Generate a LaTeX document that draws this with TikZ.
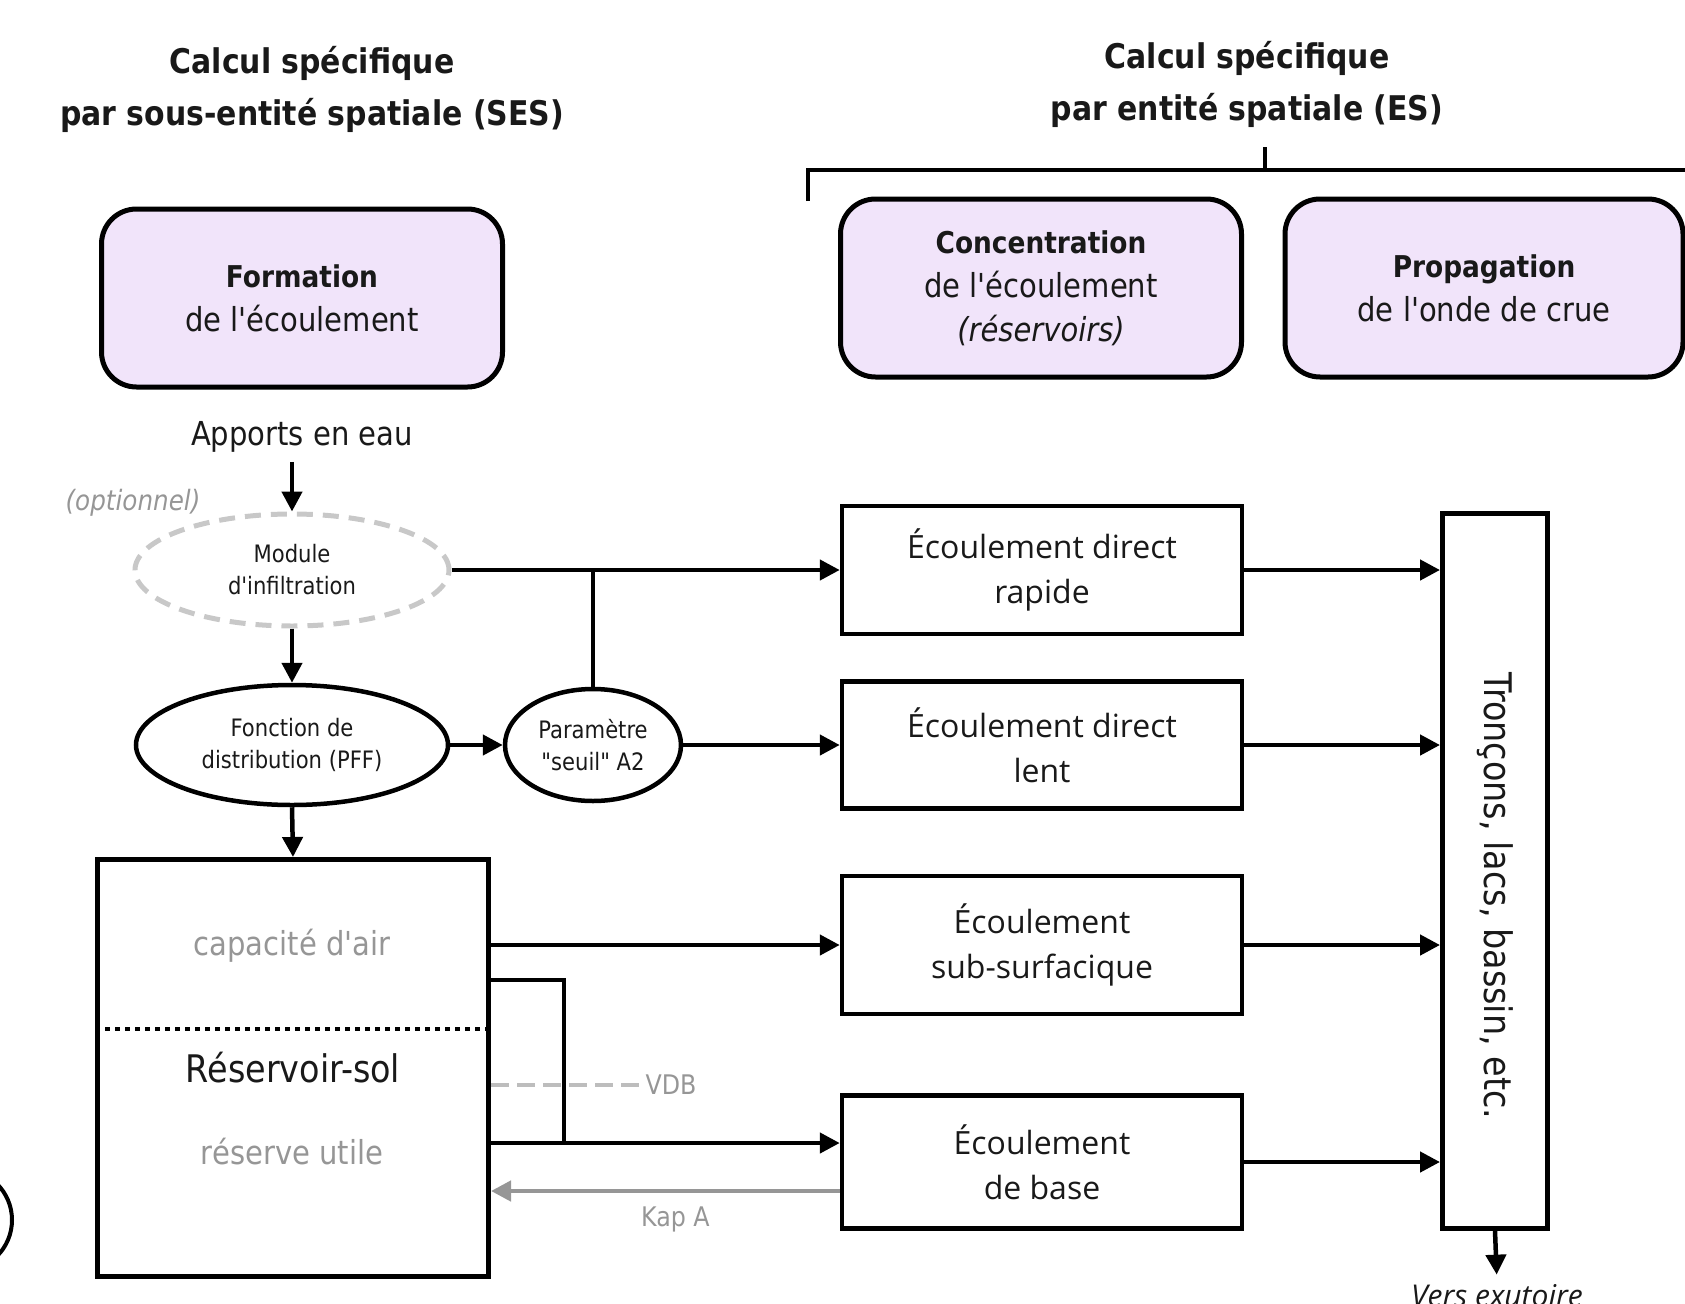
\documentclass[tikz,border=0pt]{standalone}
\usepackage{fontspec}
\setmainfont{DejaVu Sans}[FakeStretch=0.88, Ligatures=TeXOff]
\newfontfamily\boxfont{Open Sans}
\usetikzlibrary{shapes.geometric, arrows.meta, positioning}
\definecolor{lilac}{RGB}{241,228,250}
\definecolor{inkgray}{RGB}{150,150,150}
\definecolor{palegray}{RGB}{200,200,200}
\definecolor{ink}{RGB}{25,25,25}
\tikzstyle{title} = [align=center, text=ink, font=\bfseries\fontsize{34}{52}\selectfont]
\tikzstyle{phase} = [rectangle, rounded corners=35pt, minimum width=401pt, minimum height=178pt, align=center, draw=black, line width=5pt, fill=lilac, text=ink, font=\fontsize{33}{44}\selectfont]
\tikzstyle{flow} = [rectangle, minimum width=400pt, align=center, draw=black, line width=4.5pt, text=ink, font=\boxfont\fontsize{32}{45}\selectfont]
\tikzstyle{module} = [ellipse, inner sep=0pt, align=center, draw=black, line width=4.5pt, text=ink, font=\fontsize{24}{32}\selectfont]
\tikzstyle{note} = [text=inkgray, font=\fontsize{27}{32}\selectfont]
\tikzstyle{arrow} = [line width=4.5pt, -{Triangle[length=20pt, width=20pt]}]
\tikzstyle{link} = [line width=4.5pt]
\begin{document}
\begin{tikzpicture}[x=1pt, y=-1pt]
\useasboundingbox (0,0) rectangle (1685,1303);

% Titles
\node (titleses) [title] at (312,89) {Calcul spécifique\\par sous-entité spatiale (SES)};
\node (titlees) [title] at (1247,84) {Calcul spécifique\\par entité spatiale (ES)};
\draw [link] (808,201) -- (808,170) -- (1700,170);
\draw [link] (1265,147) -- (1265,170);

% Phases
\node (formation) [phase] at (302,298) {\textbf{\fontsize{30}{44}\selectfont Formation}\\de l'écoulement};
\node (concentration) [phase] at (1041,288) {\textbf{\fontsize{30}{44}\selectfont Concentration}\\de l'écoulement\\\textit{(réservoirs)}};
\node (propagation) [phase, minimum width=398pt] at (1484,288) {\textbf{\fontsize{30}{44}\selectfont Propagation}\\de l'onde de crue};

% SES chain
\node (apports) [text=ink, font=\fontsize{33}{40}\selectfont] at (302,437) {Apports en eau};
\node (optionnel) [note, font=\itshape\fontsize{28}{32}\selectfont] at (133,503) {(optionnel)};
\node (module) [module, draw=palegray, dash pattern=on 16pt off 10pt, line width=5pt, minimum width=314pt, minimum height=112pt] at (292,570) {Module\\d'infiltration};
\node (fonction) [module, minimum width=312pt, minimum height=120pt] at (292,745) {Fonction de\\distribution (PFF)};
\node (seuil) [module, minimum width=176pt, minimum height=112pt] at (593,745) {Paramètre\\"seuil" A2};
\node (reservoir) [rectangle, draw=black, line width=5pt, minimum width=391pt, minimum height=417pt, text=ink, font=\fontsize{38}{44}\selectfont] at (293,1068) {Réservoir-sol};
\node (capacite) [note, font=\fontsize{33}{40}\selectfont] at (292,946) {capacité d'air};
\node (reserve) [note, font=\fontsize{33}{40}\selectfont] at (292,1152) {réserve utile};
\draw [line width=4pt, dash pattern=on 5pt off 5pt] (reservoir.west |- 0,1029) -- (reservoir.east |- 0,1029);

% ES flows
\node (rapide) [flow, minimum height=128pt] at (1042,570) {Écoulement direct\\rapide};
\node (lent) [flow, minimum height=127pt] at (1042,745) {Écoulement direct\\lent};
\node (sub) [flow, minimum height=138pt] at (1042,945) {Écoulement\\sub-surfacique};
\node (base) [flow, minimum height=133pt] at (1042,1162) {Écoulement\\de base};
% rotated: south = left side, east = bottom side
\node (troncons) [rectangle, rotate=-90, draw=black, line width=5pt, minimum width=715pt, minimum height=105pt, text=ink, font=\fontsize{38}{40}\selectfont] at (1495,871) {\hspace*{50pt}Tronçons, lacs, bassin, etc.};
\node (exutoire) [text=ink, inner sep=2pt, font=\boxfont\itshape\fontsize{30}{36}\selectfont] at (1497,1296) {Vers exutoire};

% Arrows
\draw [arrow, shorten <=6pt] (module.north |- apports.south) -- (module.north);
\draw [arrow] (module.south) -- (fonction.north);
\draw [arrow] (fonction.south) -- (reservoir.north);
\draw [arrow] (fonction.east) -- (seuil.west);
\draw [arrow] (module.east) -- (rapide.west);
\draw [link] (seuil.north) -- (seuil.north |- module.east);
\draw [arrow] (seuil.east) -- (lent.west);
\draw [arrow] (reservoir.east |- sub.west) -- (sub.west);
\coordinate (bend) at (564,980);
\draw [arrow] (reservoir.east |- 0,1143) -- (base.west |- 0,1143);
\draw [link] (reservoir.east |- bend) -- (bend) -- (bend |- 0,1145);
\coordinate (vdbend) at (640,1085);
\draw [line width=4.5pt, draw=palegray!85!gray, dash pattern=on 18pt off 8pt] (reservoir.east |- vdbend) -- (vdbend);
\node (vdb) [note, right=2pt of vdbend] {VDB};
\draw [line width=4.5pt, draw=inkgray, -{Triangle[length=20pt, width=20pt]}] (base.west |- 0,1191) -- node (kap) [note, below=10pt, xshift=10pt] {Kap A} (reservoir.east |- 0,1191);
\foreach \s in {rapide, lent, sub, base}
  \draw [arrow] (\s.east) -- (\s.east -| troncons.south);
\draw [arrow, shorten >=8pt] (troncons.east) -- (exutoire.north);

% cropped shape at the left edge
\draw [line width=4pt] (-39,1220) circle [radius=51];

\end{tikzpicture}
\end{document}
